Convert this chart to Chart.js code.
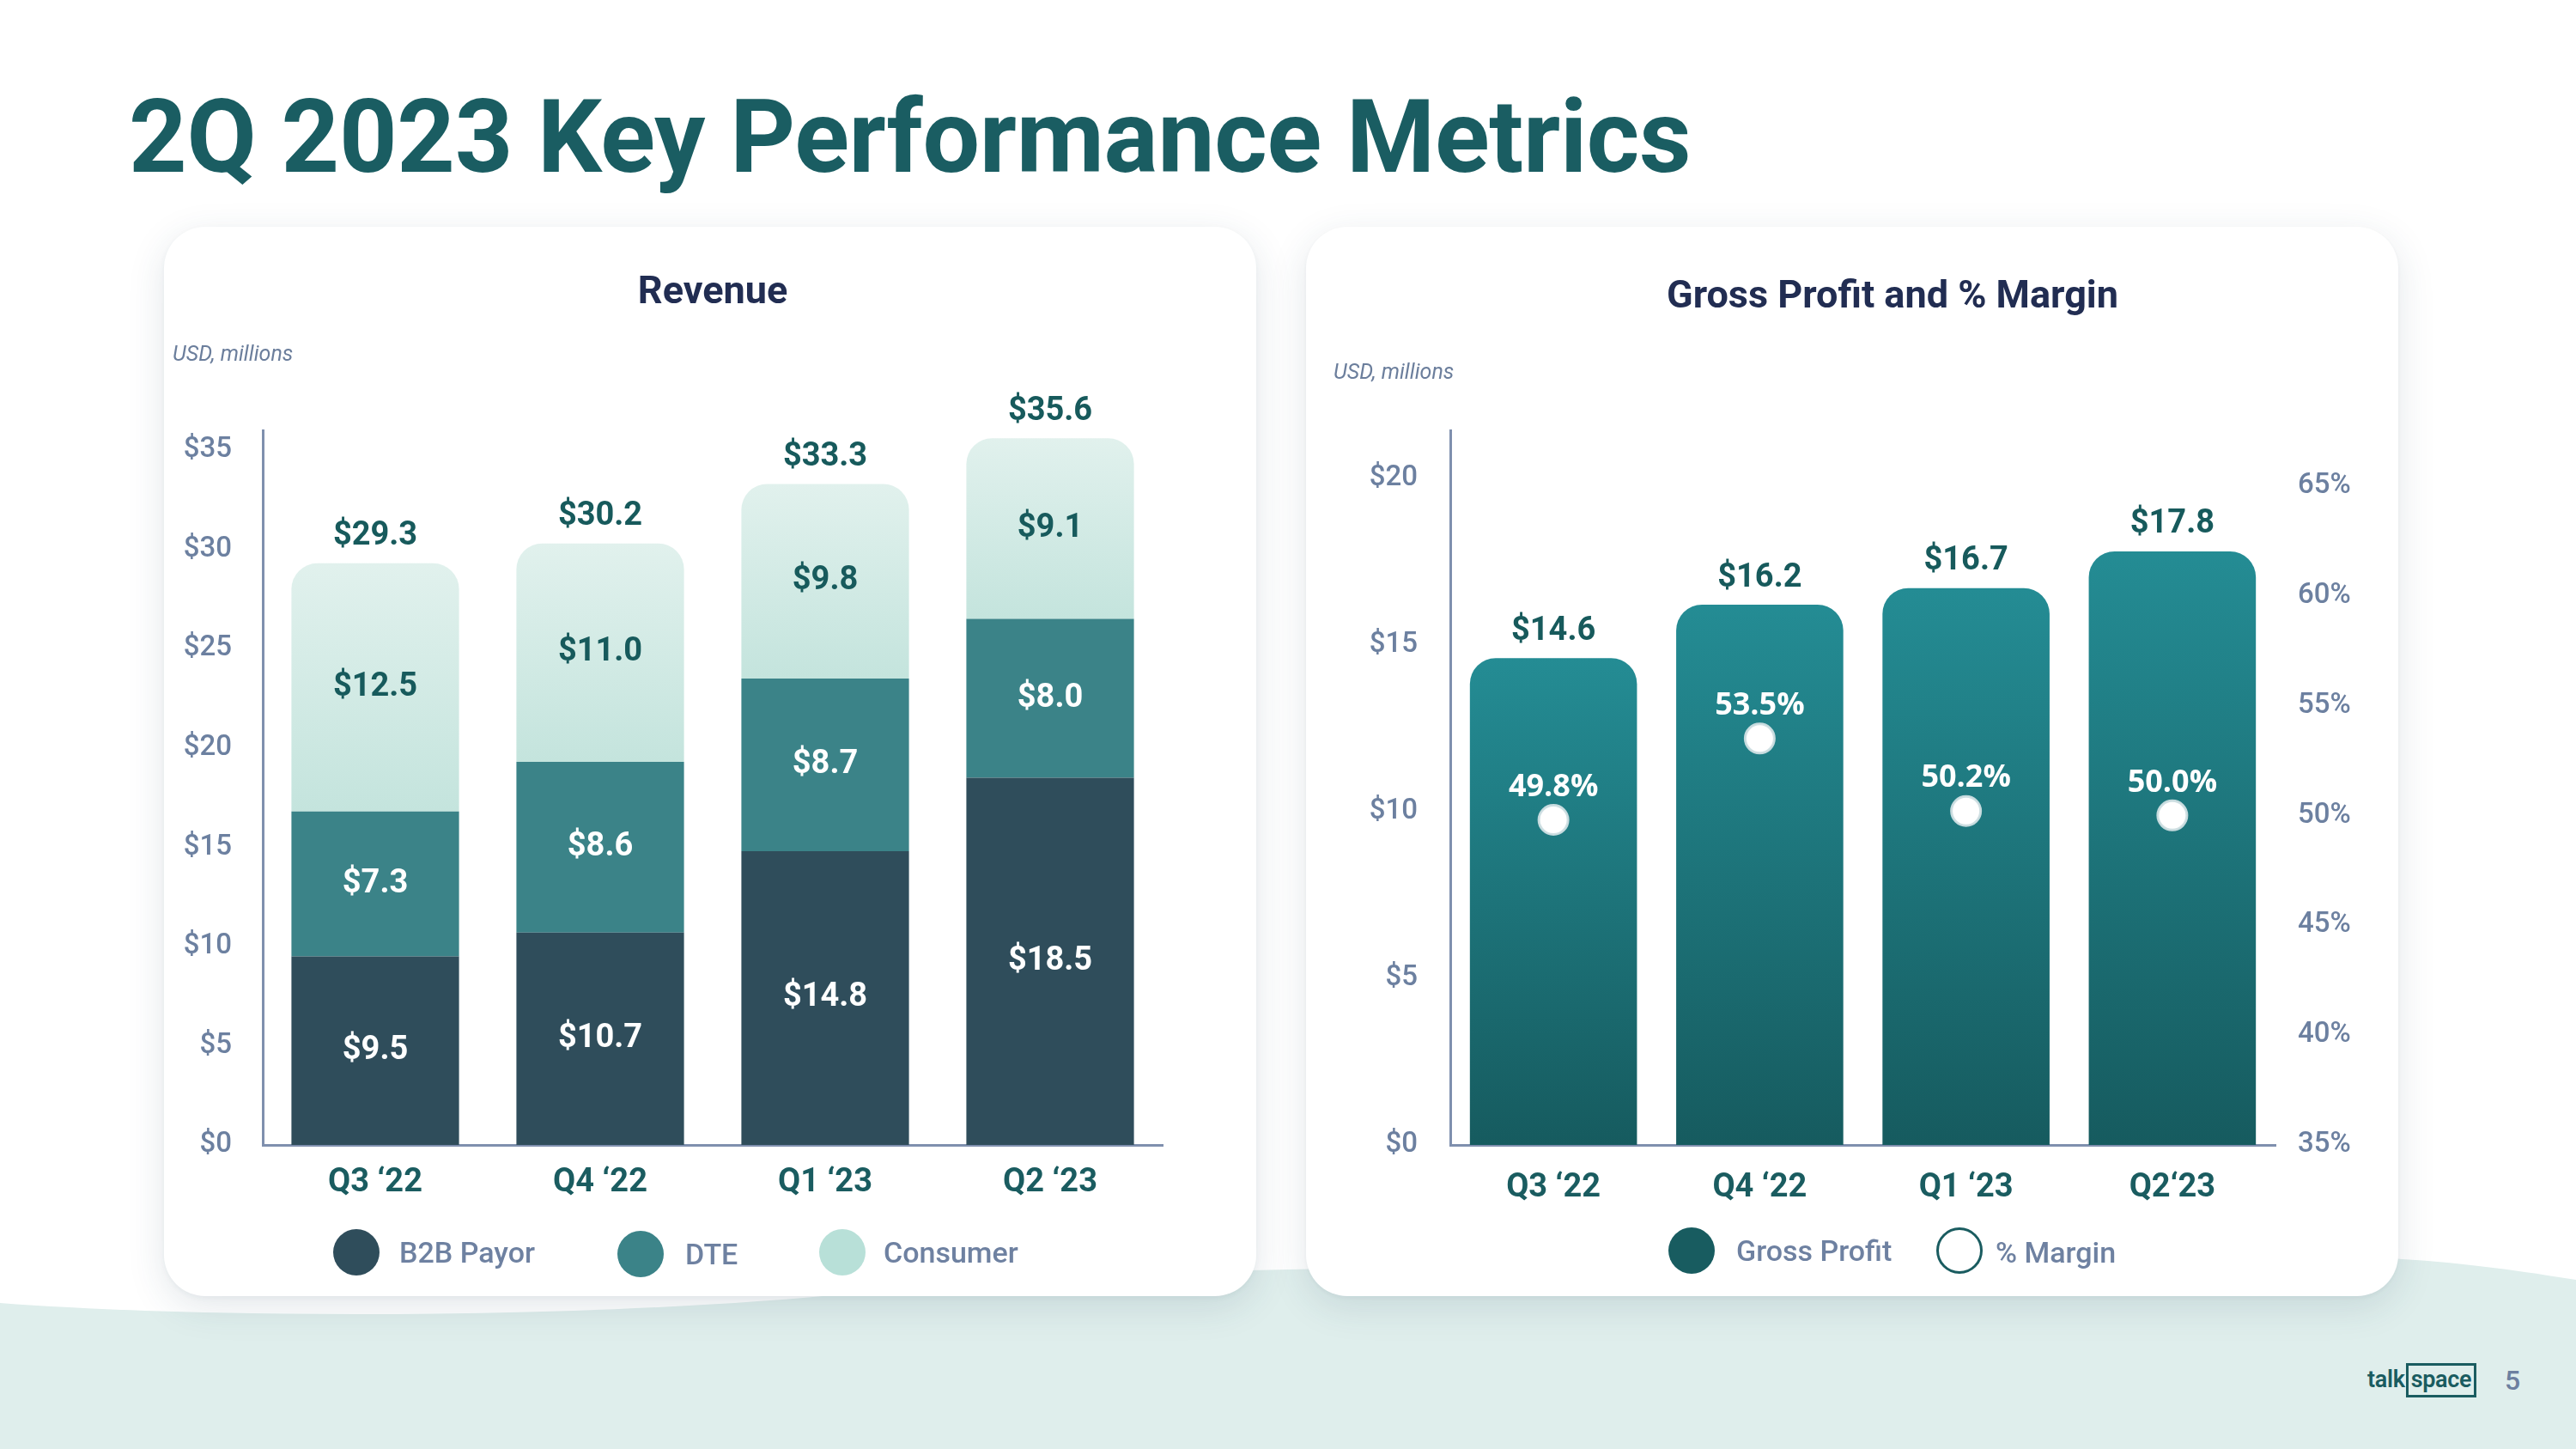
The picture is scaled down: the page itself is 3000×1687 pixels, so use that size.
<!DOCTYPE html>
<html>
<head>
<meta charset="utf-8">
<script src="https://cdn.jsdelivr.net/npm/chart.js@4.4.1/dist/chart.umd.min.js"></script>
<style>
  html, body { margin:0; padding:0; }
  body { width:3000px; height:1687px; position:relative; overflow:hidden; background:#ffffff; font-family: Roboto, "Noto Sans", sans-serif; }
  #wave { position:absolute; left:0; top:0; z-index:0; }
  .title { position:absolute; left:150px; top:91px; font-size:118px; font-weight:700; color:#1a5d62; letter-spacing:-0.3px; white-space:nowrap; z-index:2; }
  .panel { position:absolute; top:264px; width:1272px; height:1245px; background:#fff; border-radius:48px;
           box-shadow: 0 12px 44px rgba(40,70,90,0.13), 0 2px 6px rgba(40,70,90,0.05); z-index:1; }
  .panel canvas { position:absolute; left:0; top:0; }
  .abs { position:absolute; white-space:nowrap; z-index:3; }
  .ctitle { font-size:45px; font-weight:700; color:#212d52; transform:translate(-50%,-50%); }
  .unit { font-size:25px; font-style:italic; color:#6b7e9c; transform:translateY(-50%); }
  .dot { position:absolute; width:54px; height:54px; border-radius:50%; transform:translate(-50%,-50%); z-index:3; box-sizing:border-box; }
  .lgtxt { font-size:34px; font-weight:500; color:#6e81a1; transform:translateY(-50%); }
  .logo { position:absolute; left:2757px; top:1590px; font-size:27px; font-weight:600; color:#1a5c60; z-index:3; white-space:nowrap; letter-spacing:-0.3px; }
  .logo span { border:3px solid #1a5c60; padding:0 3px 2px 3px; margin-left:1px; }
  .pnum { position:absolute; left:2917px; top:1588px; font-size:32px; font-weight:500; color:#6c80a0; z-index:3; }
</style>
</head>
<body>
<svg id="wave" width="3000" height="1687">
  <path d="M0,1517 C250,1536 700,1536 1000,1505 C1200,1488 1400,1480 1500,1478 L2600,1462 C2800,1459 2900,1474 3000,1490 L3000,1687 L0,1687 Z" fill="#dfeeec"/>
</svg>

<div class="title">2Q 2023 Key Performance Metrics</div>

<div class="panel" style="left:191px;"><canvas id="rev" width="1272" height="1245"></canvas></div>
<div class="panel" style="left:1521px;"><canvas id="gp" width="1272" height="1245"></canvas></div>

<div class="abs ctitle" style="left:830px; top:337px;">Revenue</div>
<div class="abs unit" style="left:201px; top:411px;">USD, millions</div>
<div class="abs ctitle" style="left:2204px; top:342px;">Gross Profit and % Margin</div>
<div class="abs unit" style="left:1553px; top:432px;">USD, millions</div>

<!-- left legend -->
<div class="dot" style="left:415px; top:1458px; background:#2f4d5b;"></div>
<div class="abs lgtxt" style="left:465px; top:1458px;">B2B Payor</div>
<div class="dot" style="left:746px; top:1460px; background:#3b8388;"></div>
<div class="abs lgtxt" style="left:798px; top:1460px;">DTE</div>
<div class="dot" style="left:981px; top:1458px; background:#b8e0d8;"></div>
<div class="abs lgtxt" style="left:1029px; top:1458px;">Consumer</div>

<!-- right legend -->
<div class="dot" style="left:1970px; top:1456px; background:#185c60;"></div>
<div class="abs lgtxt" style="left:2022px; top:1456px;">Gross Profit</div>
<div class="dot" style="left:2282px; top:1456px; background:#fff; border:3px solid #1a5c60;"></div>
<div class="abs lgtxt" style="left:2324px; top:1458px;">% Margin</div>

<div class="logo">talk<span>space</span></div>
<div class="pnum">5</div>

<script>
// ---------- DATA ----------
const revenueCategories = ['Q3 \u201822', 'Q4 \u201822', 'Q1 \u201823', 'Q2 \u201823'];
const b2bPayor = [9.5, 10.7, 14.8, 18.5];
const dte = [7.3, 8.6, 8.7, 8.0];
const consumer = [12.5, 11.0, 9.8, 9.1];
const revenueTotals = [29.3, 30.2, 33.3, 35.6];
const revenueTickValues = [0, 5, 10, 15, 20, 25, 30, 35];

const gpCategories = ['Q3 \u201822', 'Q4 \u201822', 'Q1 \u201823', 'Q2\u201823'];
const grossProfit = [14.6, 16.2, 16.7, 17.8];
const marginPct = [49.8, 53.5, 50.2, 50.0];
const gpTickValues = [0, 5, 10, 15, 20];
const marginTickValues = [35, 40, 45, 50, 55, 60, 65];

// ---------- STYLE ----------
const AXIS_COLOR = '#7f90ae';
const TICK_COLOR = '#6c80a0';
const CAT_COLOR = '#1a5c60';
const LABEL_DARK = '#175a5c';

function keepTicks(values) {
  return function (scale) {
    scale.ticks = values.map(v => ({ value: v }));
  };
}

function barGradient(ctx, top, bottom, c1, c2) {
  const g = ctx.createLinearGradient(0, top, 0, bottom);
  g.addColorStop(0, c1);
  g.addColorStop(1, c2);
  return g;
}

// ---------- REVENUE CHART ----------
const revLabels = {
  id: 'revLabels',
  afterDatasetsDraw(chart) {
    const ctx = chart.ctx;
    ctx.save();
    ctx.textAlign = 'center';
    ctx.textBaseline = 'middle';
    ctx.font = '700 38px Roboto';
    const colors = ['#ffffff', '#ffffff', LABEL_DARK];
    chart.data.datasets.forEach((ds, di) => {
      const meta = chart.getDatasetMeta(di);
      meta.data.forEach((bar, i) => {
        ctx.fillStyle = colors[di];
        ctx.fillText('$' + ds.data[i].toFixed(1), bar.x, (bar.y + bar.base) / 2);
      });
    });
    const topMeta = chart.getDatasetMeta(2);
    topMeta.data.forEach((bar, i) => {
      ctx.fillStyle = LABEL_DARK;
      ctx.fillText('$' + revenueTotals[i].toFixed(1), bar.x, bar.y - 31);
    });
    ctx.restore();
  }
};

new Chart(document.getElementById('rev'), {
  type: 'bar',
  data: {
    labels: revenueCategories,
    datasets: [
      { label: 'B2B Payor', data: b2bPayor, backgroundColor: '#2f4d5b', borderRadius: 0 },
      { label: 'DTE', data: dte, backgroundColor: '#3b8388', borderRadius: 0 },
      { label: 'Consumer', data: consumer,
        backgroundColor: (c) => {
          const chart = c.chart;
          if (!chart.chartArea || c.dataIndex === undefined) return '#cfe9e3';
          const y = chart.scales.y;
          const i = c.dataIndex;
          const top = y.getPixelForValue(b2bPayor[i] + dte[i] + consumer[i]);
          const bottom = y.getPixelForValue(b2bPayor[i] + dte[i]);
          return barGradient(chart.ctx, top, bottom, '#e1f1ed', '#c4e4dd');
        },
        borderRadius: { topLeft: 30, topRight: 30, bottomLeft: 0, bottomRight: 0 },
        borderSkipped: false }
    ]
  },
  options: {
    responsive: false,
    animation: false,
    devicePixelRatio: 1,
    layout: { padding: { left: 0, right: 109, top: 237, bottom: 76 } },
    plugins: { legend: { display: false }, tooltip: { enabled: false } },
    datasets: { bar: { categoryPercentage: 1, barPercentage: 0.745 } },
    scales: {
      x: {
        stacked: true,
        grid: { display: false, drawTicks: false },
        border: { display: true, color: AXIS_COLOR, width: 3 },
        ticks: { color: CAT_COLOR, font: { family: 'Roboto', size: 38, weight: '700' }, padding: 22, maxRotation: 0 },
        afterFit(scale) { scale.height = 100; }
      },
      y: {
        stacked: true,
        min: 0,
        max: 36.0,
        grid: { display: false, drawTicks: false },
        border: { display: true, color: AXIS_COLOR, width: 3 },
        ticks: { color: TICK_COLOR, font: { family: 'Roboto', size: 33, weight: '500' }, padding: 36,
                 callback: (v) => '$' + v },
        afterBuildTicks: keepTicks(revenueTickValues),
        afterFit(scale) { scale.width = 115; }
      }
    }
  },
  plugins: [revLabels]
});

// ---------- GROSS PROFIT CHART ----------
const gpLabels = {
  id: 'gpLabels',
  afterDatasetsDraw(chart) {
    const ctx = chart.ctx;
    ctx.save();
    ctx.textAlign = 'center';
    ctx.textBaseline = 'middle';
    const barMeta = chart.getDatasetMeta(0);
    ctx.font = '700 38px Roboto';
    ctx.fillStyle = LABEL_DARK;
    barMeta.data.forEach((bar, i) => {
      ctx.fillText('$' + grossProfit[i].toFixed(1), bar.x, bar.y - 31);
    });
    const ptMeta = chart.getDatasetMeta(1);
    ctx.font = '700 36px "Open Sans"';
    ctx.fillStyle = '#ffffff';
    ptMeta.data.forEach((pt, i) => {
      ctx.fillText(marginPct[i].toFixed(1) + '%', pt.x, pt.y - 38);
    });
    ctx.restore();
  }
};

new Chart(document.getElementById('gp'), {
  type: 'bar',
  data: {
    labels: gpCategories,
    datasets: [
      { type: 'bar', label: 'Gross Profit', data: grossProfit, yAxisID: 'y', order: 1,
        backgroundColor: (c) => {
          const chart = c.chart;
          if (!chart.chartArea || c.dataIndex === undefined) return '#1f7a80';
          const y = chart.scales.y;
          const top = y.getPixelForValue(grossProfit[c.dataIndex]);
          const bottom = y.getPixelForValue(0);
          return barGradient(chart.ctx, top, bottom, '#248c94', '#165b5f');
        },
        borderRadius: { topLeft: 30, topRight: 30, bottomLeft: 0, bottomRight: 0 },
        borderSkipped: false,
        categoryPercentage: 1, barPercentage: 0.81 },
      { type: 'line', label: '% Margin', data: marginPct, yAxisID: 'y1', order: 0,
        showLine: false, pointRadius: 17, pointBackgroundColor: '#ffffff',
        pointBorderColor: 'rgba(205,222,226,0.95)', pointBorderWidth: 3 }
    ]
  },
  options: {
    responsive: false,
    animation: false,
    devicePixelRatio: 1,
    layout: { padding: { left: 0, right: 0, top: 237, bottom: 76 } },
    plugins: { legend: { display: false }, tooltip: { enabled: false } },
    scales: {
      x: {
        grid: { display: false, drawTicks: false },
        border: { display: true, color: AXIS_COLOR, width: 3 },
        ticks: { color: CAT_COLOR, font: { family: 'Roboto', size: 38, weight: '700' }, padding: 28, maxRotation: 0 },
        afterFit(scale) { scale.height = 100; }
      },
      y: {
        position: 'left',
        min: 0,
        max: 21.43,
        grid: { display: false, drawTicks: false },
        border: { display: true, color: AXIS_COLOR, width: 3 },
        ticks: { color: TICK_COLOR, font: { family: 'Roboto', size: 33, weight: '500' }, padding: 38,
                 callback: (v) => '$' + v },
        afterBuildTicks: keepTicks(gpTickValues),
        afterFit(scale) { scale.width = 168; }
      },
      y1: {
        position: 'right',
        min: 35,
        max: 67.53,
        grid: { display: false, drawTicks: false },
        border: { display: false },
        ticks: { color: TICK_COLOR, font: { family: 'Roboto', size: 33, weight: '500' }, padding: 26,
                 callback: (v) => v + '%' },
        afterBuildTicks: keepTicks(marginTickValues),
        afterFit(scale) { scale.width = 143; }
      }
    }
  },
  plugins: [gpLabels]
});
</script>
</body>
</html>
